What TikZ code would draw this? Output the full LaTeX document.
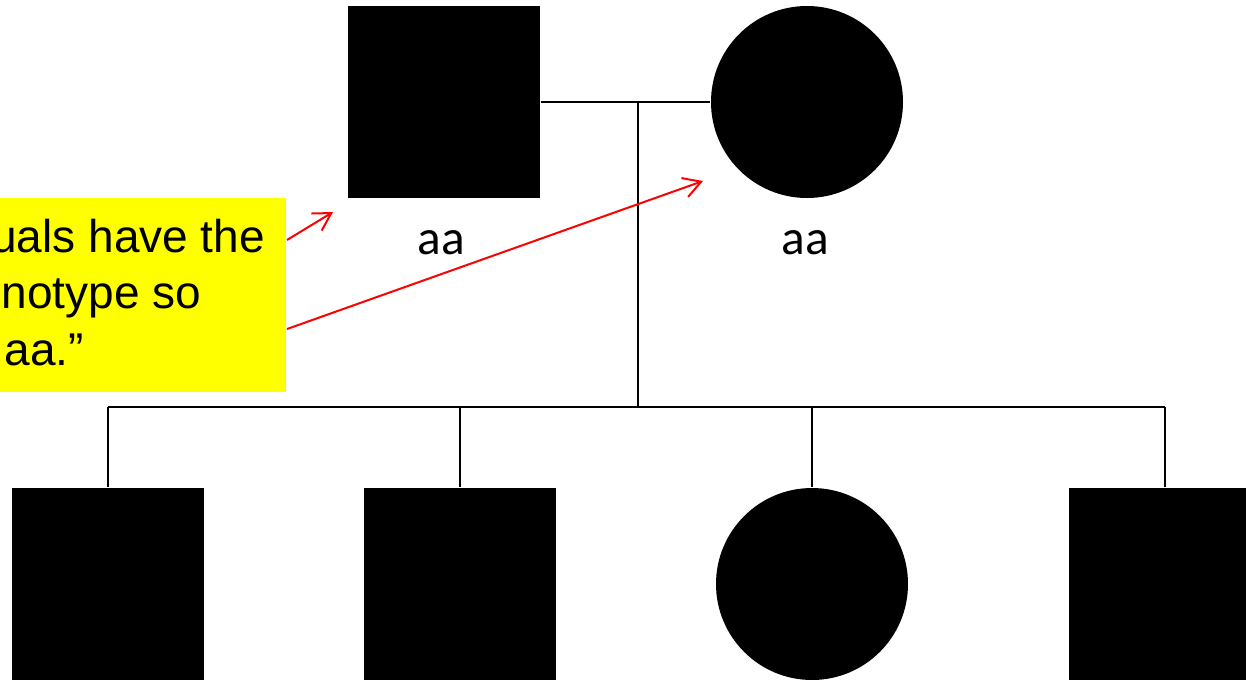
\documentclass[tikz,border=0pt]{standalone}
\usepackage{fontspec}
\setmainfont{Carlito}
\newfontfamily\notefont{Liberation Sans}
\usetikzlibrary{arrows.meta}

\definecolor{noteyellow}{RGB}{255,255,0}
\definecolor{pointred}{RGB}{255,0,0}

\tikzset{
  male/.style={rectangle, fill=black, inner sep=0pt, minimum size=144pt},
  female/.style={circle, fill=black, inner sep=0pt, minimum size=144pt},
  geno/.style={inner sep=0pt, anchor=base, font=\fontsize{37pt}{44pt}\selectfont},
  noteline/.style={inner sep=0pt, anchor=base east, font=\notefont\fontsize{34.5pt}{42pt}\selectfont},
  pointer/.style={->, pointred, line width=1.5pt},
}

\begin{document}
\begin{tikzpicture}[x=0.75pt, y=-0.75pt, >={Straight Barb[length=13pt,width=15pt]}, line width=1.5pt]
            \clip (0,0) rectangle (1246,679);

            % parents
            \node [male] (father) at (443.5, 102) {};
            \node [female] (mother) at (807, 102) {};
            \node [geno] (fgeno) at (441, 254) {aa};
            \node [geno] (mgeno) at (805, 254) {aa};

            % children
            \node [male] (c1) at (108, 584) {};
            \node [male] (c2) at (460, 584) {};
            \node [female] (c3) at (812, 584) {};
            \node [male] (c4) at (1165, 584) {};

            \coordinate (mid) at (638, 102);
            \coordinate (sib) at (638, 407);

            \draw (father) -- (mother);
            \draw (mid) -- (sib);
            \draw (c1.north |- sib) -- (c4.north |- sib);
            \foreach \c in {c1, c2, c3, c4}
                \draw (\c.north |- sib) -- (\c.north);

            % note box
            \node [fill=noteyellow, inner sep=0pt, minimum width=300pt, minimum height=145.5pt, anchor=north east] (note) at (287, 197) {};
            \node [noteline] (l1) at (266, 252) {uals have the};
            \node [noteline] (l2) at (202, 308.5) {notype so};
            \node [noteline] (l3) at (85, 365) {aa.\char"201D};

            \coordinate (p1) at (287, 240);
            \coordinate (p1end) at (333, 212);
            \coordinate (p2) at (287, 329);
            \coordinate (p2end) at (703, 181);
            \draw [pointer] (p1) -- (p1end);
            \draw [pointer] (p2) -- (p2end);

        \end{tikzpicture}
\end{document}
